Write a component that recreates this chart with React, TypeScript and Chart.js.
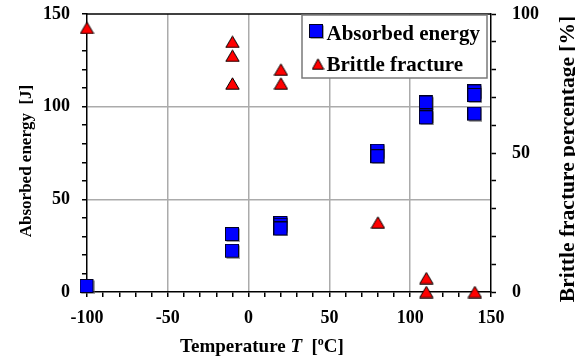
import React, { useEffect, useRef } from "react";
import { Chart, registerables } from "chart.js";

Chart.register(...registerables);

// ---- data ----
const energyTemps = [-100, -10, -10, 20, 20, 20, 80, 80, 110, 110, 110, 140, 140, 140];
const energyValues = [3, 31, 22, 37, 36, 34, 76, 73, 102, 95, 94, 108, 106, 96];
const brittleTemps = [-100, -10, -10, -10, 20, 20, 80, 110, 110, 140];
const brittleValues = [95, 90, 85, 75, 80, 75, 25, 5, 0, 0];
const xTickLabels = [-100, -50, 0, 50, 100, 150];
const leftTickLabels = [0, 50, 100, 150];
const rightTickLabels = [0, 50, 100];
const seriesLabels = ["Absorbed energy", "Brittle fracture"];

const FAMILY = '"Liberation Serif", "Times New Roman", serif';
const GRID = "#ababab";

function makeSquare(side: number) {
  const c = document.createElement("canvas");
  c.width = side + 1;
  c.height = side + 1;
  const g = c.getContext("2d")!;
  g.fillStyle = "rgba(90,90,90,0.55)";
  g.fillRect(1.5, 1.5, side - 0.5, side - 0.5);
  g.fillStyle = "#0000ff";
  g.fillRect(0.5, 0.5, side - 1, side - 1);
  g.strokeStyle = "#000022";
  g.lineWidth = 1;
  g.strokeRect(0.5, 0.5, side - 1, side - 1);
  return c;
}

function makeTriangle(w: number, h: number) {
  const c = document.createElement("canvas");
  c.width = w;
  c.height = h;
  const g = c.getContext("2d")!;
  g.beginPath();
  g.moveTo(w / 2, 0.8);
  g.lineTo(w - 0.8, h - 0.8);
  g.lineTo(0.8, h - 0.8);
  g.closePath();
  g.fillStyle = "#ff0000";
  g.fill();
  g.strokeStyle = "#000000";
  g.lineWidth = 1;
  g.stroke();
  return c;
}

function zeroPad(s: any) {
  s.paddingTop = 0;
  s.paddingBottom = 0;
  s.paddingLeft = 0;
  s.paddingRight = 0;
}

export default function App() {
  const ref = useRef<HTMLCanvasElement | null>(null);

  useEffect(() => {
    const canvas = ref.current;
    if (!canvas) return;
    const sq = makeSquare(14);
    const tri = makeTriangle(15, 13);
    const sqL = makeSquare(14);
    const triL = makeTriangle(13, 12);

    const overlay = {
      id: "overlay",
      beforeDatasetsDraw(chart: any) {
        const { ctx, chartArea } = chart;
        ctx.save();
        ctx.strokeStyle = "#000";
        ctx.lineWidth = 1.5;
        ctx.beginPath();
        ctx.moveTo(chartArea.left, chartArea.top);
        ctx.lineTo(chartArea.right, chartArea.top);
        ctx.stroke();
        ctx.restore();
      },
      afterDraw(chart: any) {
        const { ctx } = chart;
        ctx.save();
        ctx.fillStyle = "#000";
        // x axis title with mixed styles
        const segs: [string, string, number][] = [
          ["Temperature ", `bold 19px ${FAMILY}`, 0],
          ["T", `italic bold 19px ${FAMILY}`, 0],
          ["  [", `bold 19px ${FAMILY}`, 0],
          ["o", `bold 12px ${FAMILY}`, -7],
          ["C]", `bold 19px ${FAMILY}`, 0],
        ];
        let total = 0;
        const widths = segs.map(([t, f]) => {
          ctx.font = f;
          const w = ctx.measureText(t).width;
          total += w;
          return w;
        });
        let x = 262 - total / 2;
        ctx.textBaseline = "alphabetic";
        ctx.textAlign = "left";
        segs.forEach(([t, f, dy], i) => {
          ctx.font = f;
          ctx.fillText(t, x, 352 + dy);
          x += widths[i];
        });

        // left title
        ctx.save();
        ctx.translate(31, 161);
        ctx.rotate(-Math.PI / 2);
        ctx.font = `bold 17px ${FAMILY}`;
        ctx.textAlign = "center";
        ctx.fillText("Absorbed energy  [J]", 0, 0);
        ctx.restore();

        // right title
        ctx.save();
        ctx.translate(574, 159);
        ctx.rotate(-Math.PI / 2);
        ctx.font = `bold 21.5px ${FAMILY}`;
        ctx.textAlign = "center";
        ctx.fillText("Brittle fracture percentage [%]", 0, 0);
        ctx.restore();

        // legend
        ctx.fillStyle = "#fff";
        ctx.fillRect(302, 15, 185, 63);
        ctx.strokeStyle = "#7a7a7a";
        ctx.lineWidth = 1.5;
        ctx.strokeRect(302, 15, 185, 63);
        ctx.drawImage(sqL, 316.5 - sqL.width / 2, 31.5 - sqL.height / 2);
        ctx.drawImage(triL, 318 - triL.width / 2, 64 - triL.height / 2);
        ctx.fillStyle = "#000";
        ctx.font = `bold 21px ${FAMILY}`;
        ctx.textAlign = "left";
        const ds = chart.data.datasets;
        ctx.fillText(ds[0].label, 326.5, 40);
        ctx.fillText(ds[1].label, 326.5, 70.5);
        ctx.restore();
      },
    };

    const tickFont = { family: FAMILY, size: 18, weight: "bold" as const };

    const chart = new Chart(canvas, {
      type: "scatter",
      data: {
        datasets: [
          {
            label: seriesLabels[0],
            data: energyTemps.map((t, i) => ({ x: t, y: energyValues[i] })),
            yAxisID: "y",
            pointStyle: sq as any,
            pointRadius: 7,
            clip: false as any,
            order: 1,
          },
          {
            label: seriesLabels[1],
            data: brittleTemps.map((t, i) => ({ x: t, y: brittleValues[i] })),
            yAxisID: "y2",
            pointStyle: tri as any,
            pointRadius: 7,
            clip: false as any,
            order: 0,
          },
        ],
      },
      options: {
        animation: false,
        responsive: false,
        devicePixelRatio: 1,
        layout: { padding: { top: 14, left: 0, right: 0, bottom: 0 } },
        plugins: { legend: { display: false }, tooltip: { enabled: false } },
        scales: {
          x: {
            type: "linear",
            min: -100,
            max: 150,
            afterFit: (s: any) => {
              s.height = 70;
              zeroPad(s);
            },
            ticks: {
              stepSize: 10,
              autoSkip: false,
              maxRotation: 0,
              color: "#000",
              font: tickFont,
              padding: 11,
              callback: (v: any) => (xTickLabels.includes(Number(v)) ? String(v) : ""),
            },
            grid: {
              color: (c: any) =>
                c.tick && c.tick.value % 50 === 0 && c.tick.value > -100 && c.tick.value < 150
                  ? GRID
                  : "rgba(0,0,0,0)",
              lineWidth: 1.5,
              tickColor: "#000",
              tickLength: 5,
              tickWidth: 1.5,
            } as any,
            border: { display: true, color: "#000", width: 1.5 },
          },
          y: {
            type: "linear",
            position: "left",
            min: 0,
            max: 150,
            afterFit: (s: any) => {
              s.width = 87;
              zeroPad(s);
            },
            ticks: {
              stepSize: 10,
              autoSkip: false,
              color: "#000",
              font: tickFont,
              padding: 12,
              callback: (v: any) => (leftTickLabels.includes(Number(v)) ? String(v) : ""),
            },
            grid: {
              color: (c: any) =>
                c.tick && c.tick.value % 50 === 0 && c.tick.value > 0 && c.tick.value < 150
                  ? GRID
                  : "rgba(0,0,0,0)",
              lineWidth: 1.5,
              tickColor: "#000",
              tickLength: 5,
              tickWidth: 1.5,
            } as any,
            border: { display: true, color: "#000", width: 1.5 },
          },
          y2: {
            type: "linear",
            position: "right",
            min: 0,
            max: 100,
            afterFit: (s: any) => {
              s.width = 84;
              zeroPad(s);
            },
            ticks: {
              stepSize: 10,
              autoSkip: false,
              color: "#000",
              font: tickFont,
              padding: 16,
              callback: (v: any) => (rightTickLabels.includes(Number(v)) ? String(v) : ""),
            },
            grid: {
              drawOnChartArea: false,
              tickColor: "#000",
              tickLength: 5,
              tickWidth: 1.5,
            } as any,
            border: { display: true, color: "#000", width: 1.5 },
          },
        },
      } as any,
      plugins: [overlay],
    });

    return () => chart.destroy();
  }, []);

  return (
    <div style={{ position: "absolute", left: 0, top: 0, width: 575, height: 362, background: "#fff" }}>
      <canvas ref={ref} width={575} height={362} style={{ width: 575, height: 362, display: "block" }} />
    </div>
  );
}
